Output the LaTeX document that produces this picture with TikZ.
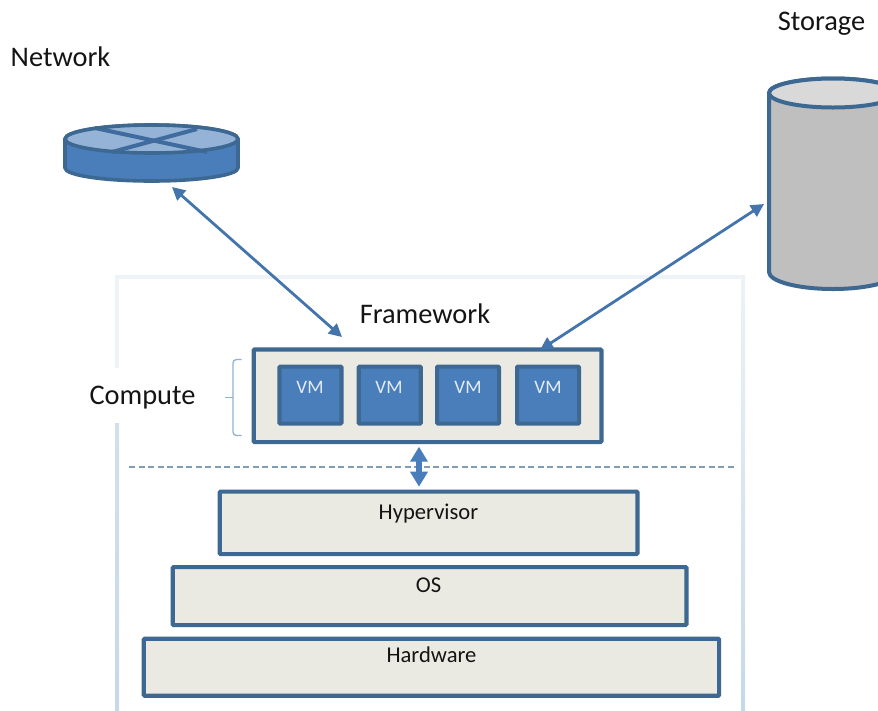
\documentclass[tikz,border=0pt]{standalone}
\usepackage{fontspec}
\setmainfont{Carlito}
\usetikzlibrary{arrows.meta}
\definecolor{edge}{HTML}{3D6892}
\definecolor{blue}{HTML}{4A7EBB}
\definecolor{pale}{HTML}{94B3D6}
\definecolor{bracec}{HTML}{8FB0CF}
\definecolor{beige}{HTML}{EBEAE2}
\definecolor{framec}{HTML}{EDF3F6}
\definecolor{frameb}{HTML}{C6D8E9}
\definecolor{dashc}{HTML}{7F9DB5}
\tikzset{
  layerbox/.style={draw=edge,line width=4.2pt,fill=beige,rounded corners=1pt,inner sep=0pt,anchor=north west},
  vmbox/.style={draw=edge,line width=4.2pt,fill=blue,rounded corners=1pt,inner sep=0pt,anchor=north west,minimum width=62pt,minimum height=57pt},
  label/.style={inner sep=0pt,text=black!92,font=\fontsize{28.4}{32}\selectfont},
  small/.style={inner sep=0pt,text=black!92,font=\fontsize{22.6}{26}\selectfont},
  vmtext/.style={inner sep=0pt,text=white!85!blue,font=\fontsize{19}{22}\selectfont},
  link/.style={draw=blue!92!black,line width=2.8pt,{Triangle[length=13pt,width=13pt]}-{Triangle[length=13pt,width=13pt]}}
}
\begin{document}
\begin{tikzpicture}[x=1pt,y=-1pt]
\useasboundingbox (0,0) rectangle (878,710);
\clip (0,0) rectangle (878,710);
% frame
\fill[framec] (115,275) rectangle (745,279);
\shade[top color=framec,bottom color=frameb] (741,275) rectangle (745,710);
\fill[framec] (115,275) rectangle (119,368);
\shade[top color=frameb!70!framec,bottom color=frameb] (115,423) rectangle (119,710);
% dashed
\coordinate (dl) at (129,467);
\coordinate (dr) at (735,467);
\draw[dashc,line width=1.2pt,dash pattern=on 6pt off 3.5pt] (dl) -- (dr);
% router
\path[fill=blue,draw=edge,line width=3.6pt,line join=round] (65,139) -- (65,168) arc[start angle=180,end angle=0,x radius=86.5,y radius=13] -- (238,139) arc[start angle=0,end angle=-180,x radius=86.5,y radius=14] -- cycle;
\path[fill=pale] (151.5,139) ellipse[x radius=86.5,y radius=14];
\draw[blue!85!black,line width=4pt] (95,128) -- (207,152);
\draw[blue!85!black,line width=4pt] (197,129) -- (112,152);
\draw[edge,line width=3.6pt] (151.5,139) ellipse[x radius=86.5,y radius=14];
% storage
\path[fill=black!25,draw=edge,line width=4pt,line join=round] (769,93) -- (769,272) arc[start angle=180,end angle=0,x radius=64,y radius=17] -- (897,93) arc[start angle=0,end angle=-180,x radius=64,y radius=14.5] -- cycle;
\path[fill=black!15,draw=edge,line width=4pt] (833,93) ellipse[x radius=64,y radius=14.5];
% boxes
\node[layerbox,minimum width=347.6pt,minimum height=92.7pt] (fw) at (251.7,347.3) {};
\node[vmbox] (vm1) at (277.3,364.5) {};
\node[vmbox] (vm2) at (356.7,364.5) {};
\node[vmbox] (vm3) at (435,364.5) {};
\node[vmbox] (vm4) at (515,364.5) {};
\node[vmtext] (t1) at (310,387) {VM};
\node[vmtext] (t2) at (389,387) {VM};
\node[vmtext] (t3) at (468,387) {VM};
\node[vmtext] (t4) at (548,387) {VM};
\node[layerbox,minimum width=417.6pt,minimum height=62.5pt] (hyp) at (217.7,489.5) {};
\node[layerbox,minimum width=513.6pt,minimum height=58pt] (os) at (170.7,565) {};
\node[layerbox,minimum width=575.3pt,minimum height=57pt] (hw) at (141.7,636.7) {};
\node[small] (t5) at (428.5,513.5) {Hypervisor};
\node[small] (t6) at (428.5,585) {OS};
\node[small] (t7) at (431.5,655) {Hardware};
% labels
\node[label] (net) at (60.5,57) {Network};
\node[label] (sto) at (821.5,24) {Storage};
\node[label] (fwl) at (425,314) {Framework};
\node[label] (cmp) at (142.5,398) {Compute};
% brace
\draw[bracec,line width=1.3pt,rounded corners=3.5pt] (241.7,359.5) -- (233,359.5) -- (233,435.5) -- (241.7,435.5);
\draw[bracec,line width=1.3pt] (224.5,397.5) -- (233,397.5);
% connectors
\coordinate (a1) at (172,187);
\coordinate (a2) at (342,337);
\coordinate (b1) at (540,350);
\coordinate (b2) at (764,204);
\coordinate (c1) at (419,446.7);
\coordinate (c2) at (419,486.7);
\draw[link] (a1) -- (a2);
\draw[link] (b1) -- (b2);
\draw[draw=blue,line width=6pt,{Triangle[length=15pt,width=17pt]}-{Triangle[length=15pt,width=17pt]}] (c1) -- (c2);
\end{tikzpicture}
\end{document}
